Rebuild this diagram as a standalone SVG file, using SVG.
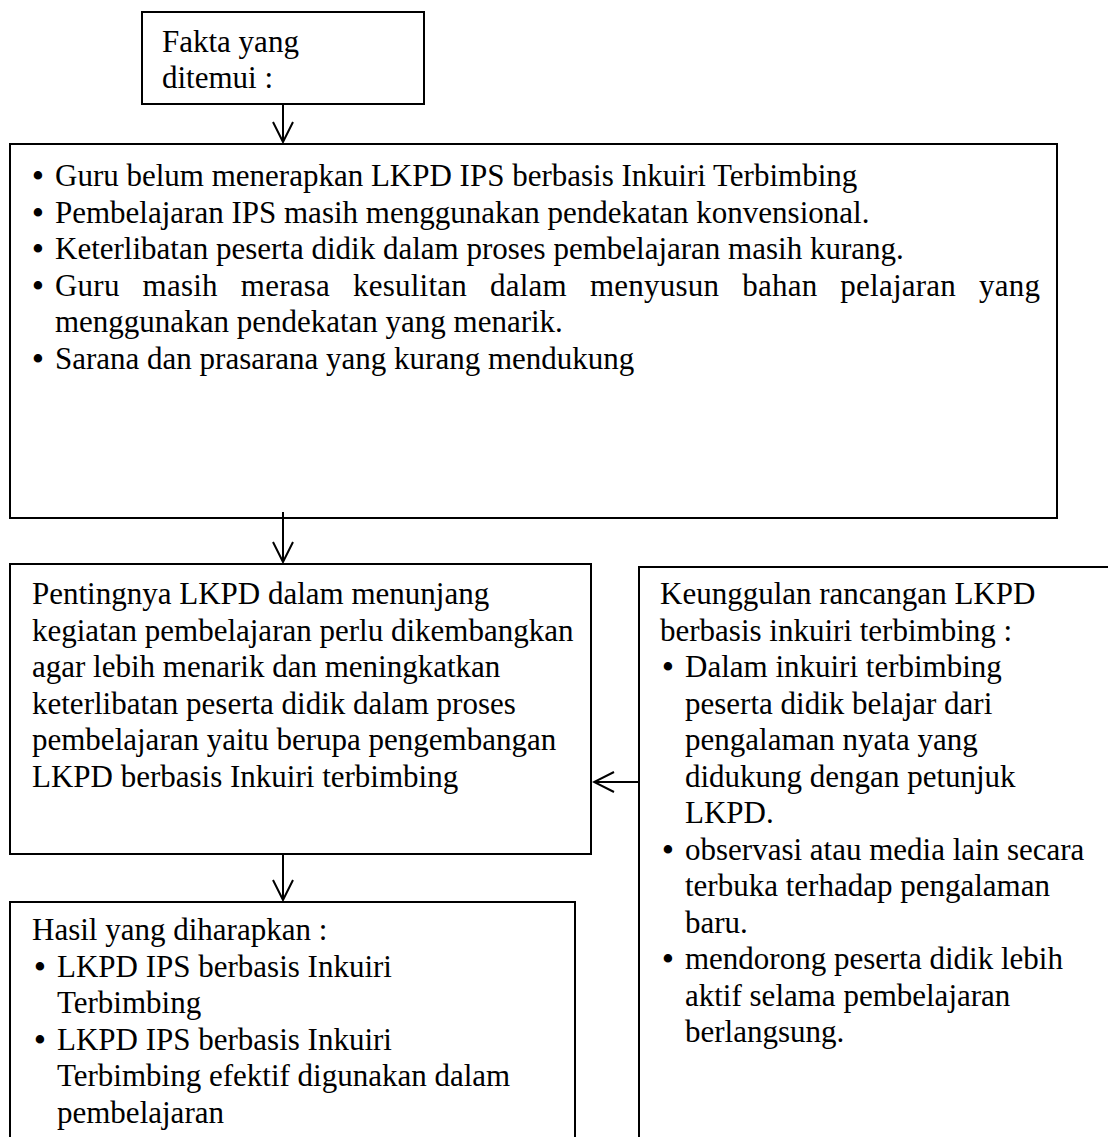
<svg xmlns="http://www.w3.org/2000/svg" width="1108" height="1137" viewBox="0 0 1108 1137">
<style>
.box{fill:#fff;stroke:#000;stroke-width:2}
.t{font-family:"Liberation Serif","Times New Roman",serif;font-size:31px;fill:#000}
.b{font-family:"Liberation Serif","Times New Roman",serif;font-size:31px;font-weight:bold;fill:#000;text-anchor:middle}
.ln{stroke:#000;stroke-width:2;fill:none}
</style>
<defs>
<marker id="ah" viewBox="0 0 24 24" refX="22" refY="12" markerWidth="24" markerHeight="24" markerUnits="userSpaceOnUse" orient="auto">
<path d="M2,2 L22,12 L2,22" fill="none" stroke="#000" stroke-width="2"/>
</marker>
</defs>
<rect width="1108" height="1137" fill="#fff"/>

<g id="fakta">
<rect class="box" x="142" y="12" width="282" height="92"/>
<text class="t" x="162" y="52">Fakta yang</text>
<text class="t" x="162" y="88">ditemui :</text>
</g>

<g id="facts">
<rect class="box" x="10" y="144" width="1047" height="374"/>
<text class="b" x="38" y="186">•</text>
<text class="t" x="55" y="186">Guru belum menerapkan LKPD IPS berbasis Inkuiri Terbimbing</text>
<text class="b" x="38" y="222.5">•</text>
<text class="t" x="55" y="222.5">Pembelajaran IPS masih menggunakan pendekatan konvensional.</text>
<text class="b" x="38" y="259">•</text>
<text class="t" x="55" y="259">Keterlibatan peserta didik dalam proses pembelajaran masih kurang.</text>
<text class="b" x="38" y="295.5">•</text>
<text class="t" x="55" y="295.5" textLength="985" lengthAdjust="spacing" word-spacing="15">Guru masih merasa kesulitan dalam menyusun bahan pelajaran yang</text>
<text class="t" x="55" y="332">menggunakan pendekatan yang menarik.</text>
<text class="b" x="38" y="368.5">•</text>
<text class="t" x="55" y="368.5">Sarana dan prasarana yang kurang mendukung</text>
</g>

<g id="pentingnya">
<rect class="box" x="10" y="564" width="581" height="290"/>
<text class="t" x="32" y="604">Pentingnya LKPD dalam menunjang</text>
<text class="t" x="32" y="640.5">kegiatan pembelajaran perlu dikembangkan</text>
<text class="t" x="32" y="677">agar lebih menarik dan meningkatkan</text>
<text class="t" x="32" y="713.5">keterlibatan peserta didik dalam proses</text>
<text class="t" x="32" y="750">pembelajaran yaitu berupa pengembangan</text>
<text class="t" x="32" y="786.5">LKPD berbasis Inkuiri terbimbing</text>
</g>

<g id="keunggulan">
<rect class="box" x="639" y="567" width="500" height="600"/>
<text class="t" x="660" y="604">Keunggulan rancangan LKPD</text>
<text class="t" x="660" y="640.5">berbasis inkuiri terbimbing :</text>
<text class="b" x="668" y="677">•</text>
<text class="t" x="685" y="677">Dalam inkuiri terbimbing</text>
<text class="t" x="685" y="713.5">peserta didik belajar dari</text>
<text class="t" x="685" y="750">pengalaman nyata yang</text>
<text class="t" x="685" y="786.5">didukung dengan petunjuk</text>
<text class="t" x="685" y="823">LKPD.</text>
<text class="b" x="668" y="859.5">•</text>
<text class="t" x="685" y="859.5">observasi atau media lain secara</text>
<text class="t" x="685" y="896">terbuka terhadap pengalaman</text>
<text class="t" x="685" y="932.5">baru.</text>
<text class="b" x="668" y="969">•</text>
<text class="t" x="685" y="969">mendorong peserta didik lebih</text>
<text class="t" x="685" y="1005.5">aktif selama pembelajaran</text>
<text class="t" x="685" y="1042">berlangsung.</text>
</g>

<g id="hasil">
<rect class="box" x="10" y="902" width="565" height="260"/>
<text class="t" x="32" y="940">Hasil yang diharapkan :</text>
<text class="b" x="40" y="976.5">•</text>
<text class="t" x="57" y="976.5">LKPD IPS berbasis Inkuiri</text>
<text class="t" x="57" y="1013">Terbimbing</text>
<text class="b" x="40" y="1049.5">•</text>
<text class="t" x="57" y="1049.5">LKPD IPS berbasis Inkuiri</text>
<text class="t" x="57" y="1086">Terbimbing efektif digunakan dalam</text>
<text class="t" x="57" y="1122.5">pembelajaran</text>
</g>

<g id="connectors">
<line class="ln" x1="283" y1="104" x2="283" y2="142" marker-end="url(#ah)"/>
<line class="ln" x1="283" y1="512" x2="283" y2="562" marker-end="url(#ah)"/>
<line class="ln" x1="639" y1="782" x2="594" y2="782" marker-end="url(#ah)"/>
<line class="ln" x1="283" y1="854" x2="283" y2="900" marker-end="url(#ah)"/>
</g>
</svg>
